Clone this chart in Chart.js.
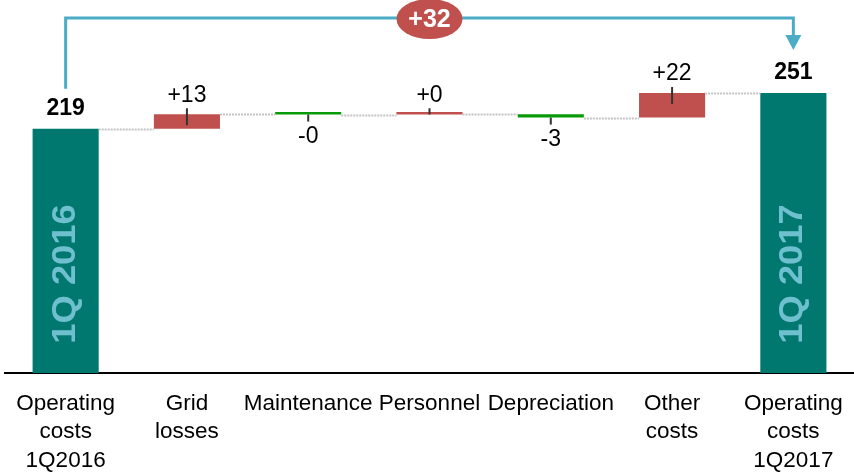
<!DOCTYPE html>
<html lang="en">
<head>
    <meta charset="UTF-8">
    <title>Operating costs bridge 1Q2016 - 1Q2017</title>
    <script src="https://cdn.jsdelivr.net/npm/chart.js"></script>
    <style>
        html, body { margin: 0; padding: 0; background: #fff; }
        #wrap { width: 854px; height: 476px; }
    </style>
</head>
<body>
    <div id="wrap"><canvas id="bridgeChart" width="854" height="476"></canvas></div>

    <script>
        // categories on the x axis (multi-line labels)
        const categories = [
            ['Operating', 'costs', '1Q2016'],
            ['Grid', 'losses'],
            'Maintenance',
            'Personnel',
            'Depreciation',
            ['Other', 'costs'],
            ['Operating', 'costs', '1Q2017']
        ];
        // 'total' bars start at zero, 'delta' bars float on the running total
        const barKinds = ['total', 'delta', 'delta', 'delta', 'delta', 'delta', 'total'];
        const barValues = [219, 13, -0.3, 0.3, -3, 22, 251];
        const periodNames = ['1Q 2016', '', '', '', '', '', '1Q 2017'];

        const TEAL = '#00776F';
        const RED = '#C0504D';
        const GREEN = '#089A08';
        const BLUE = '#4BACC6';
        const FONT = '"Liberation Sans", Arial, sans-serif';

        // build floating bars + running totals
        const floating = [];
        const runEnds = [];
        const colors = [];
        let running = 0;
        barValues.forEach((v, i) => {
            if (barKinds[i] === 'total') {
                floating.push([0, v]);
                running = v;
                colors.push(TEAL);
            } else {
                floating.push([running, running + v]);
                running += v;
                colors.push(v >= 0 ? RED : GREEN);
            }
            runEnds.push(running);
        });

        function fmtDelta(v) {
            const r = Math.abs(Math.round(v));
            return (v < 0 ? '-' : '+') + r;
        }

        const waterfallExtras = {
            id: 'waterfallExtras',
            afterDatasetsDraw(chart) {
                const ctx = chart.ctx;
                const yS = chart.scales.y;
                const area = chart.chartArea;
                const bars = chart.getDatasetMeta(0).data;

                ctx.save();

                // dotted connectors between bars
                ctx.strokeStyle = '#C4C4C4';
                ctx.lineWidth = 2;
                ctx.setLineDash([2, 1]);
                for (let i = 0; i < bars.length - 1; i++) {
                    const lvl = Math.round(yS.getPixelForValue(runEnds[i])) + 0.5;
                    ctx.beginPath();
                    ctx.moveTo(bars[i].x + bars[i].width / 2, lvl);
                    ctx.lineTo(bars[i + 1].x - bars[i + 1].width / 2, lvl);
                    ctx.stroke();
                }
                ctx.setLineDash([]);

                // rotated period names inside total bars
                ctx.fillStyle = '#6FC0CF';
                ctx.font = 'bold 33px ' + FONT;
                ctx.textAlign = 'center';
                ctx.textBaseline = 'middle';
                bars.forEach((b, i) => {
                    if (!periodNames[i]) return;
                    ctx.save();
                    ctx.translate(b.x, area.bottom - 99);
                    ctx.rotate(-Math.PI / 2);
                    ctx.scale(1.1, 1);
                    ctx.fillText(periodNames[i], 0, 0);
                    ctx.restore();
                });

                // value labels and small leader ticks
                bars.forEach((b, i) => {
                    const v = barValues[i];
                    const endPx = yS.getPixelForValue(runEnds[i]);
                    ctx.fillStyle = '#000';
                    if (barKinds[i] === 'total') {
                        ctx.font = 'bold 23px ' + FONT;
                        ctx.fillText(String(v), b.x, endPx - 20);
                        return;
                    }
                    ctx.font = '23px ' + FONT;
                    const startPx = yS.getPixelForValue(runEnds[i] - v);
                    ctx.strokeStyle = '#333';
                    ctx.lineWidth = 2;
                    ctx.beginPath();
                    if (v >= 0) {
                        ctx.fillText(fmtDelta(v), b.x, endPx - 19);
                        ctx.moveTo(b.x, endPx - 6);
                        ctx.lineTo(b.x, Math.min(endPx + 11, startPx));
                    } else {
                        ctx.fillText(fmtDelta(v), b.x, endPx + 22);
                        ctx.moveTo(b.x, endPx);
                        ctx.lineTo(b.x, endPx + 7);
                    }
                    ctx.stroke();
                });

                // bracket from first to last total with the overall change
                const first = bars[0], last = bars[bars.length - 1];
                const topY = area.top + 18;
                const leftBottom = yS.getPixelForValue(runEnds[0]) - 40;
                const tipY = yS.getPixelForValue(runEnds[runEnds.length - 1]) - 43;
                ctx.strokeStyle = BLUE;
                ctx.lineWidth = 3;
                ctx.beginPath();
                ctx.moveTo(first.x, leftBottom);
                ctx.lineTo(first.x, topY);
                ctx.lineTo(last.x, topY);
                ctx.lineTo(last.x, tipY - 14);
                ctx.stroke();
                ctx.fillStyle = BLUE;
                ctx.beginPath();
                ctx.moveTo(last.x - 8, tipY - 15);
                ctx.lineTo(last.x + 8, tipY - 15);
                ctx.lineTo(last.x, tipY);
                ctx.closePath();
                ctx.fill();

                const midX = (first.x + last.x) / 2;
                ctx.fillStyle = RED;
                ctx.beginPath();
                ctx.ellipse(midX, topY + 1, 33, 20, 0, 0, Math.PI * 2);
                ctx.fill();
                ctx.fillStyle = '#fff';
                ctx.font = 'bold 25px ' + FONT;
                const change = runEnds[runEnds.length - 1] - runEnds[0];
                ctx.fillText(fmtDelta(change), midX, topY + 2);

                ctx.restore();
            }
        };

        new Chart(document.getElementById('bridgeChart'), {
            type: 'bar',
            data: {
                labels: categories,
                datasets: [{
                    data: floating,
                    backgroundColor: colors,
                    borderWidth: 0,
                    barPercentage: 0.545,
                    categoryPercentage: 1,
                    minBarLength: 2.5
                }]
            },
            options: {
                responsive: false,
                animation: false,
                devicePixelRatio: 1,
                layout: { padding: { left: 5, right: 0, top: 0, bottom: 0 } },
                plugins: {
                    legend: { display: false },
                    tooltip: { enabled: false }
                },
                scales: {
                    x: {
                        grid: { display: false, drawTicks: false },
                        border: { display: true, color: '#000', width: 2 },
                        ticks: {
                            color: '#000',
                            font: { family: FONT, size: 22.5, lineHeight: 1.25 },
                            padding: 17,
                            autoSkip: false,
                            maxRotation: 0,
                            minRotation: 0
                        },
                        // keep the category band full width and the axis line at a fixed height
                        afterFit(scale) {
                            scale.paddingLeft = 0;
                            scale.paddingRight = 0;
                            scale.height = 103;
                        }
                    },
                    y: {
                        display: false,
                        min: 0,
                        max: 334.4
                    }
                }
            },
            plugins: [waterfallExtras]
        });
    </script>
</body>
</html>
